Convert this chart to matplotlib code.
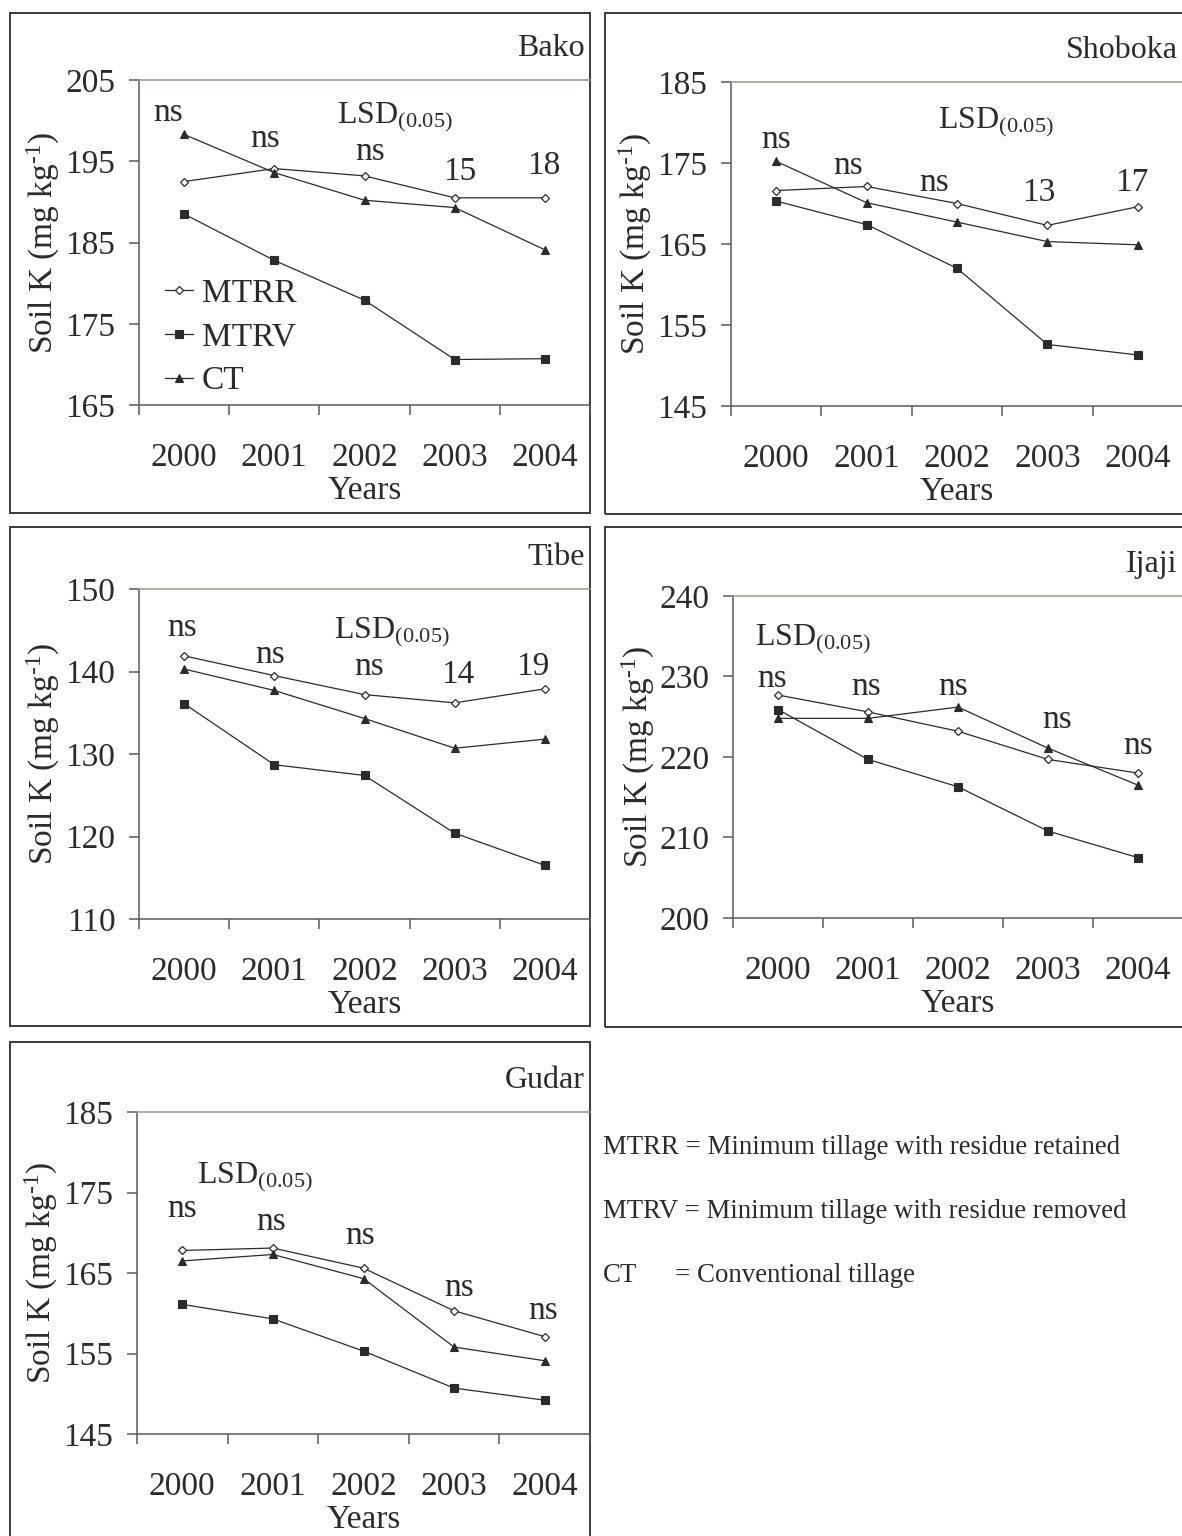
import matplotlib.pyplot as plt
import numpy as np
from matplotlib.patches import Rectangle

plt.rcParams["font.family"] = ["Liberation Serif", "DejaVu Serif"]
plt.rcParams["mathtext.fontset"] = "custom"
plt.rcParams["mathtext.rm"] = "Liberation Serif"
plt.rcParams["mathtext.it"] = "Liberation Serif:italic"
plt.rcParams["mathtext.bf"] = "Liberation Serif:bold"

# Soil K (mg/kg) by year, tillage treatment and site
years = ["2000", "2001", "2002", "2003", "2004"]
treatments = ["MTRR", "MTRV", "CT"]

bako_mtrr = [192.5, 194.1, 193.2, 190.5, 190.5]
bako_mtrv = [188.5, 182.8, 177.9, 170.6, 170.7]
bako_ct = [198.3, 193.6, 190.2, 189.3, 184.1]
bako_lsd = ["ns", "ns", "ns", "15", "18"]

shoboka_mtrr = [171.6, 172.1, 170.0, 167.3, 169.6]
shoboka_mtrv = [170.3, 167.4, 162.0, 152.6, 151.3]
shoboka_ct = [175.2, 170.1, 167.7, 165.3, 164.9]
shoboka_lsd = ["ns", "ns", "ns", "13", "17"]

tibe_mtrr = [141.9, 139.5, 137.2, 136.2, 137.9]
tibe_mtrv = [136.1, 128.7, 127.4, 120.4, 116.5]
tibe_ct = [140.3, 137.7, 134.3, 130.7, 131.8]
tibe_lsd = ["ns", "ns", "ns", "14", "19"]

ijaji_mtrr = [227.7, 225.6, 223.2, 219.7, 218.0]
ijaji_mtrv = [225.9, 219.7, 216.3, 210.8, 207.5]
ijaji_ct = [224.8, 224.8, 226.2, 221.1, 216.5]
ijaji_lsd = ["ns", "ns", "ns", "ns", "ns"]

gudar_mtrr = [167.8, 168.1, 165.6, 160.3, 157.1]
gudar_mtrv = [161.1, 159.3, 155.3, 150.7, 149.2]
gudar_ct = [166.5, 167.3, 164.3, 155.8, 154.1]
gudar_lsd = ["ns", "ns", "ns", "ns", "ns"]

definitions = [
    ("MTRR = Minimum tillage with residue retained", None),
    ("MTRV = Minimum tillage with residue removed", None),
    ("CT", "= Conventional tillage"),
]

W, H = 1182, 1536
INK = "#2b2b2b"
AXIS = "#5a5a5a"
TOP = "#a3948f"

# panel layout in pixels: axes box (l, t, r, b), frame box (l, t, r, b),
# LSD value label spots (x, y), LSD heading spot
panels = [
    dict(name="Bako", series=(bako_mtrr, bako_mtrv, bako_ct), lsd=bako_lsd,
         ylim=(165, 205), ax=(139, 80, 590, 405), frame=(10, 13, 590, 513),
         lsd_xy=[(-0.18, 200.0), (0.9, 196.8), (2.06, 195.2), (3.06, 192.7), (3.99, 193.4)],
         head=(2.34, 199.7), legend=True),
    dict(name="Shoboka", series=(shoboka_mtrr, shoboka_mtrv, shoboka_ct), lsd=shoboka_lsd,
         ylim=(145, 185), ax=(731, 82, 1183, 406), frame=(605, 13, 1195, 514),
         lsd_xy=[(0.0, 176.9), (0.8, 173.6), (1.75, 171.6), (2.9, 170.25), (3.93, 171.6)],
         head=(2.43, 179.3), legend=False),
    dict(name="Tibe", series=(tibe_mtrr, tibe_mtrv, tibe_ct), lsd=tibe_lsd,
         ylim=(110, 150), ax=(139, 589, 590, 919), frame=(10, 527, 590, 1026),
         lsd_xy=[(-0.02, 144.3), (0.95, 141.0), (2.05, 139.6), (3.03, 138.6), (3.86, 139.6)],
         head=(2.3, 144.1), legend=False),
    dict(name="Ijaji", series=(ijaji_mtrr, ijaji_mtrv, ijaji_ct), lsd=ijaji_lsd,
         ylim=(200, 240), ax=(733, 596, 1183, 918), frame=(605, 527, 1195, 1027),
         lsd_xy=[(-0.07, 228.75), (0.98, 227.7), (1.95, 227.7), (3.1, 223.6), (4.0, 220.4)],
         head=(0.39, 233.9), legend=False),
    dict(name="Gudar", series=(gudar_mtrr, gudar_mtrv, gudar_ct), lsd=gudar_lsd,
         ylim=(145, 185), ax=(137, 1112, 590, 1434), frame=(10, 1042, 590, 1560),
         lsd_xy=[(0.0, 171.9), (0.98, 170.3), (1.96, 168.6), (3.05, 162.2), (3.98, 159.3)],
         head=(0.8, 176.2), legend=False),
]

styles = [
    dict(marker="D", mfc="white", mec=INK, ms=4.5, mew=0.9),
    dict(marker="s", mfc=INK, mec=INK, ms=5.5, mew=0.8),
    dict(marker="^", mfc=INK, mec=INK, ms=6, mew=0.8),
]


def px_rect(box):
    l, t, r, b = box
    return [l / W, 1 - b / H, (r - l) / W, (b - t) / H]


fig = plt.figure(figsize=(W / 100, H / 100), dpi=100)
fig.patch.set_facecolor("white")

x = np.arange(len(years))

for p in panels:
    fl, ft, fr, fb = px_rect(p["frame"])
    fig.add_artist(Rectangle((fl, ft), fr, fb, transform=fig.transFigure,
                             fill=False, edgecolor="#3a3a3a", linewidth=1.4, zorder=0))

    ax = fig.add_axes(px_rect(p["ax"]))
    ax.patch.set_alpha(0)
    handles = []
    for vals, st, lab in zip(p["series"], styles, treatments):
        (h,) = ax.plot(x, vals, color=INK, linewidth=0.9, label=lab, **st)
        handles.append(h)

    ax.set_xlim(-0.5, 4.5)
    ax.set_ylim(*p["ylim"])
    ax.set_yticks(np.arange(p["ylim"][0], p["ylim"][1] + 1, 10))
    ax.set_xticks(x)
    ax.set_xticklabels(years)
    ax.set_xticks(np.arange(-0.5, 4.6, 1), minor=True)

    ax.spines["right"].set_visible(False)
    ax.spines["top"].set_color(TOP)
    ax.spines["top"].set_linewidth(1.1)
    for s in ("left", "bottom"):
        ax.spines[s].set_color(AXIS)
        ax.spines[s].set_linewidth(1.1)

    ax.tick_params(axis="y", direction="out", length=7, width=1.1, color=AXIS,
                   labelsize=24, labelcolor=INK, pad=10)
    ax.tick_params(axis="x", which="major", length=0, labelsize=24,
                   labelcolor=INK, pad=27)
    ax.tick_params(axis="x", which="minor", direction="out", length=7,
                   width=1.1, color=AXIS)

    ax.set_xlabel("Years", fontsize=24, color=INK, labelpad=2)
    ax.text(-0.211, 0.5, r"Soil K (mg kg$^{\mathrm{\text{-}1}}$)", transform=ax.transAxes,
            rotation=90, ha="center", va="center", fontsize=24, color=INK)

    for (tx, ty), lab in zip(p["lsd_xy"], p["lsd"]):
        ax.text(tx, ty, lab, ha="center", va="baseline", fontsize=24, color=INK)
    hx, hy = p["head"]
    ax.text(hx, hy, r"LSD$_{\mathrm{(0.05)}}$", ha="center", va="baseline",
            fontsize=23, color=INK)

    ax.annotate(p["name"], xy=(1, 1), xycoords="axes fraction",
                xytext=(-4, 17), textcoords="offset points",
                ha="right", va="baseline", fontsize=23, color=INK)

    if p["legend"]:
        ax.legend(handles=handles, loc="center left", bbox_to_anchor=(0.058, 0.208),
                  frameon=False, fontsize=24, handlelength=0.85, handletextpad=0.25,
                  labelspacing=0.4, borderpad=0, borderaxespad=0,
                  labelcolor=INK)

# treatment abbreviations next to the last panel
for i, (first, rest) in enumerate(definitions):
    yy = 1 - (1147 + i * 64) / H
    fig.text(603 / W, yy, first, ha="left", va="center", fontsize=19.4, color=INK)
    if rest:
        fig.text(675 / W, yy, rest, ha="left", va="center", fontsize=19.4, color=INK)

fig.savefig("out.png", dpi=100)
